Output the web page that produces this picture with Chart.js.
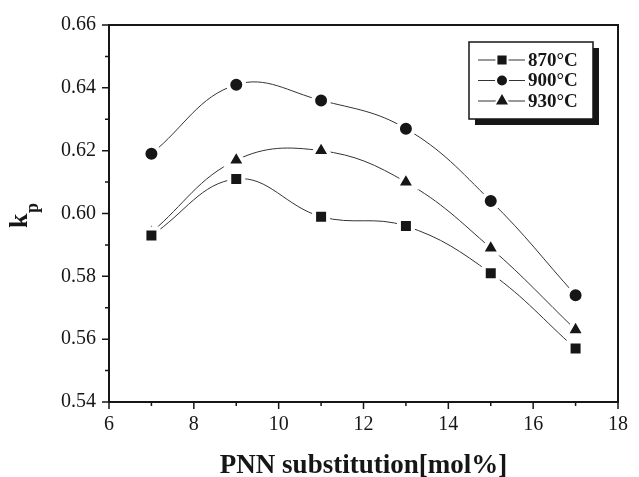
<!DOCTYPE html>
<html>
<head>
<meta charset="utf-8">
<script src="https://cdn.jsdelivr.net/npm/chart.js@4/dist/chart.umd.min.js"></script>
<style>
  html, body { margin: 0; padding: 0; background: #fff; }
</style>
</head>
<body>
<canvas id="kpChart" width="639" height="477"></canvas>
<script>
// PNN substitution (mol%) and kp values
const substitution = [7, 9, 11, 13, 15, 17];
const kp870 = [0.593, 0.611, 0.599, 0.596, 0.581, 0.557];
const kp900 = [0.619, 0.641, 0.636, 0.627, 0.604, 0.574];
const kp930 = [0.594, 0.617, 0.620, 0.610, 0.589, 0.563];
const seriesLabels = ['870°C', '900°C', '930°C'];
const pointStyles = ['rect', 'circle', 'triangle'];
const pointSizes = [9.9, 8, 10.9];
const xTitle = 'PNN substitution[mol%]';

const serif = '"Liberation Serif", "Times New Roman", serif';
const ink = '#161616';

function toPoints(ys) {
    return substitution.map((x, i) => ({ x: x, y: ys[i] }));
}

const datasets = [kp870, kp900, kp930].map((ys, i) => ({
    label: seriesLabels[i],
    data: toPoints(ys),
    borderColor: '#333',
    borderWidth: 1,
    tension: 0.4,
    pointStyle: pointStyles[i],
    pointRadius: pointSizes[i],
    pointBackgroundColor: ink,
    pointBorderColor: '#fff',
    pointBorderWidth: 4
}));

// frame, outward ticks (major + minor), axis titles and the boxed legend
const decorations = {
    id: 'decorations',
    afterDatasetsDraw(chart) {
        const ctx = chart.ctx;
        const area = chart.chartArea;
        const xs = chart.scales.x;
        const ys = chart.scales.y;
        ctx.save();
        ctx.strokeStyle = ink;
        ctx.lineWidth = 2;
        ctx.strokeRect(area.left, area.top, area.right - area.left, area.bottom - area.top);

        ctx.lineWidth = 1.5;
        ctx.beginPath();
        for (let v = 6; v <= 18; v++) {
            const px = xs.getPixelForValue(v);
            const len = v % 2 === 0 ? 7 : 4;
            ctx.moveTo(px, area.bottom);
            ctx.lineTo(px, area.bottom + len);
        }
        for (let k = 0; k <= 12; k++) {
            const py = ys.getPixelForValue(0.54 + k * 0.01);
            const len = k % 2 === 0 ? 7 : 4;
            ctx.moveTo(area.left, py);
            ctx.lineTo(area.left - len, py);
        }
        ctx.stroke();

        // x title
        ctx.fillStyle = ink;
        ctx.font = 'bold 27px ' + serif;
        ctx.textAlign = 'center';
        ctx.textBaseline = 'alphabetic';
        ctx.fillText(xTitle, (area.left + area.right) / 2, 473);

        // y title: k with subscript p
        const midY = (area.top + area.bottom) / 2;
        ctx.save();
        ctx.translate(27, midY + 14.5);
        ctx.rotate(-Math.PI / 2);
        ctx.textAlign = 'left';
        ctx.font = 'bold 26px ' + serif;
        ctx.fillText('k', 0, 0);
        const kw = ctx.measureText('k').width;
        ctx.font = 'bold 18px ' + serif;
        ctx.fillText('p', kw + 0.5, 11);
        ctx.restore();

        // legend box with drop shadow
        const bx = area.right - 149, by = area.top + 17, bw = 124, bh = 77;
        ctx.fillStyle = ink;
        ctx.fillRect(bx + 6, by + 6, bw, bh);
        ctx.fillStyle = '#fff';
        ctx.fillRect(bx, by, bw, bh);
        ctx.lineWidth = 1.5;
        ctx.strokeStyle = ink;
        ctx.strokeRect(bx, by, bw, bh);

        ctx.font = 'bold 19px ' + serif;
        ctx.textBaseline = 'middle';
        ctx.textAlign = 'left';
        chart.data.datasets.forEach((ds, i) => {
            const ry = by + 18 + i * 20.5;
            ctx.strokeStyle = '#333';
            ctx.lineWidth = 1;
            ctx.beginPath();
            ctx.moveTo(bx + 9, ry);
            ctx.lineTo(bx + 56, ry);
            ctx.stroke();
            ctx.fillStyle = ink;
            ctx.strokeStyle = '#fff';
            ctx.lineWidth = 2;
            Chart.helpers.drawPoint(ctx, {
                pointStyle: ds.pointStyle,
                radius: ds.pointRadius - 2,
                borderWidth: 2,
                rotation: 0
            }, bx + 33, ry);
            ctx.fillStyle = ink;
            ctx.fillText(ds.label, bx + 59, ry + 1);
        });
        ctx.restore();
    }
};

new Chart(document.getElementById('kpChart'), {
    type: 'line',
    data: { datasets: datasets },
    options: {
        responsive: false,
        animation: false,
        layout: { padding: { top: 21, right: 11, left: 0, bottom: 0 } },
        plugins: { legend: { display: false }, tooltip: { enabled: false } },
        scales: {
            x: {
                type: 'linear',
                min: 6,
                max: 18,
                grid: { display: false, drawTicks: false },
                border: { display: false },
                ticks: {
                    stepSize: 2,
                    padding: 11,
                    color: ink,
                    font: { family: serif, size: 20 }
                },
                afterFit: s => { s.height = 75; }
            },
            y: {
                min: 0.54,
                max: 0.66,
                grid: { display: false, drawTicks: false },
                border: { display: false },
                ticks: {
                    stepSize: 0.02,
                    padding: 13,
                    color: ink,
                    font: { family: serif, size: 20 },
                    callback: v => v.toFixed(2)
                },
                afterFit: s => { s.width = 109; }
            }
        }
    },
    plugins: [decorations]
});
</script>
</body>
</html>
